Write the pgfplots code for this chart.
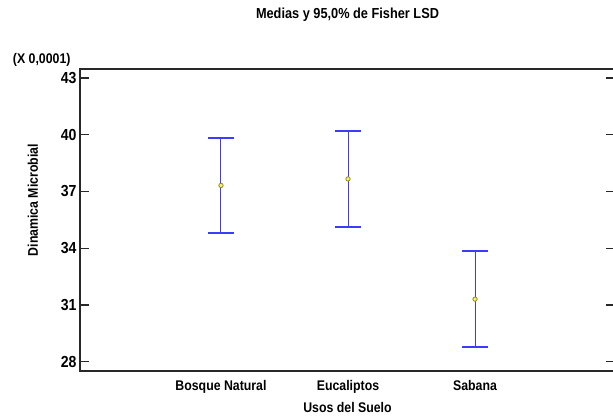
\documentclass[border=0pt]{standalone}
\usepackage{pgfplots}
\pgfplotsset{compat=1.18}
\usepackage{fontspec}
\setmainfont{Liberation Sans}[FakeStretch=0.88]
\definecolor{barblue}{RGB}{60,60,255}
\definecolor{axgray}{RGB}{40,40,40}
\definecolor{meanedge}{RGB}{150,140,20}
\definecolor{meanfill}{RGB}{240,240,120}
\begin{document}
\begin{tikzpicture}
\useasboundingbox (0,0) rectangle (613bp,418bp);
\begin{axis}[
  at={(80bp,47bp)}, anchor=south west,
  scale only axis, width=535bp, height=302bp,
  xmin=-0.11, xmax=4.102,
  ymin=27.51, ymax=43.476,
  font=\fontsize{14bp}{16bp}\selectfont\bfseries,
  /pgf/number format/assume math mode=true,
  ytick={28,31,34,37,40,43},
  yticklabels={28,31,34,37,40,43},
  yticklabel style={font=\fontsize{16bp}{18bp}\selectfont\bfseries, xshift=0bp},
  xtick={1,2,3},
  xticklabels={Bosque Natural,Eucaliptos,Sabana},
  x tick style={draw=none},
  ytick pos=both,
  tick align=inside,
  major tick length=9bp,
  y tick style={axgray, line width=1.2pt},
  axis line style={axgray, line width=1.3pt},
  xticklabel style={yshift=-6bp},
  every axis title shift=0pt,
  title={Medias y 95,0\% de Fisher LSD},
  title style={at={(axis description cs:0.5,1)}, anchor=center, yshift=54bp, font=\fontsize{14.5bp}{16bp}\selectfont\bfseries},
  xlabel={Usos del Suelo},
  xlabel style={at={(axis description cs:0.5,0)}, anchor=center, yshift=-36bp},
  ylabel={Dinamica Microbial},
  ylabel style={at={(axis description cs:-0.088,0.566)}, anchor=center},
  clip=false,
]
\addplot[
  only marks,
  mark=*, mark size=2.2bp,
  mark options={draw=meanedge, fill=meanfill, line width=0.8pt},
  error bars/.cd,
    y dir=both, y explicit,
    error bar style={barblue, line width=1pt},
    error mark options={barblue, rotate=90, mark size=12.7bp, line width=2pt},
] coordinates {
  (1,37.32) +- (0,2.52)
  (2,37.665) +- (0,2.545)
  (3,31.31) +- (0,2.54)
};
\node[anchor=east, font=\fontsize{14bp}{16bp}\selectfont\bfseries] at (rel axis cs:0,1) [xshift=-6bp, yshift=9bp] {(X 0,0001)};
\end{axis}
\end{tikzpicture}
\end{document}
